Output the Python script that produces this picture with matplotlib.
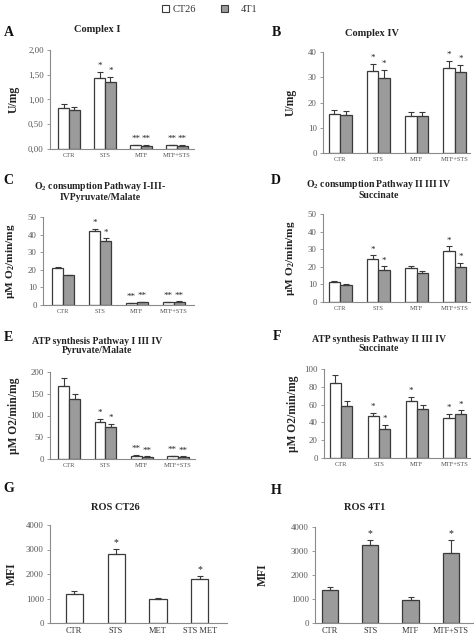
import matplotlib
matplotlib.use("Agg")
import matplotlib.pyplot as plt
import numpy as np
from matplotlib.patches import Rectangle
from matplotlib.ticker import FuncFormatter

plt.rcParams['font.family'] = ['Liberation Serif', 'DejaVu Serif']
plt.rcParams['mathtext.fontset'] = 'custom'
plt.rcParams['mathtext.rm'] = 'Liberation Serif'
plt.rcParams['mathtext.bf'] = 'Liberation Serif:bold'

# ---------------- data ----------------
cats_main = ["CTR", "STS", "MTF", "MTF+STS"]
cats_g = ["CTR", "STS", "MET", "STS MET"]
cats_h = ["CTR", "STS", "MTF", "MTF+STS"]

a_ct26 = [0.83, 1.43, 0.08, 0.08]
a_ct26_err = [0.08, 0.12, 0.01, 0.01]
a_4t1 = [0.78, 1.36, 0.07, 0.07]
a_4t1_err = [0.07, 0.10, 0.01, 0.01]
a_stars = ["", "*", "**", "**"]

b_ct26 = [15.6, 32.5, 14.8, 33.5]
b_ct26_err = [1.6, 2.8, 1.3, 2.8]
b_4t1 = [15.1, 29.7, 14.8, 32.0]
b_4t1_err = [1.6, 3.2, 1.3, 2.8]
b_stars = ["", "*", "", "*"]

c_ct26 = [20.8, 41.8, 1.2, 1.5]
c_ct26_err = [0.6, 1.6, 0.2, 0.2]
c_4t1 = [16.8, 36.3, 1.6, 1.8]
c_4t1_err = [0.5, 1.6, 0.3, 0.3]
c_stars = ["", "*", "**", "**"]

d_ct26 = [11.5, 24.3, 19.5, 28.9]
d_ct26_err = [0.6, 2.2, 0.9, 2.8]
d_4t1 = [9.6, 18.4, 16.3, 20.0]
d_4t1_err = [0.4, 1.9, 1.1, 2.3]
d_stars_ct26 = ["", "*", "", "*"]
d_stars_4t1 = ["", "*", "", "*"]

e_ct26 = [167, 86, 8, 7]
e_ct26_err = [20, 7, 1, 1]
e_4t1 = [138, 74.5, 5, 5]
e_4t1_err = [11, 6, 1, 1]
e_stars = ["", "*", "**", "**"]

f_ct26 = [84, 47, 64, 45.5]
f_ct26_err = [9, 4, 5, 4]
f_4t1 = [58.5, 33, 55, 49.5]
f_4t1_err = [6, 4, 5, 4]
f_stars_ct26 = ["", "*", "*", "*"]
f_stars_4t1 = ["", "*", "", "*"]

g_vals = [1190, 2810, 990, 1790]
g_err = [125, 220, 25, 135]
g_stars = ["", "*", "", "*"]

h_vals = [1380, 3240, 950, 2920]
h_err = [110, 235, 150, 530]
h_stars = ["", "*", "", "*"]

# ---------------- layout helpers ----------------
W, H = 474, 641
fig = plt.figure(figsize=(W / 100, H / 100), dpi=100)
fig.patch.set_facecolor("white")

EDGE = "#3a3a3a"
GRAY = "#9b9b9b"
SPINE = "#8a8a8a"
TICKC = "#555555"


def fx(x):
    return x / W


def fy(y):
    return 1 - y / H


def make_ax(l, t, r, b):
    ax = fig.add_axes([fx(l), fy(b), (r - l) / W, (b - t) / H])
    for s in ["top", "right"]:
        ax.spines[s].set_visible(False)
    for s in ["left", "bottom"]:
        ax.spines[s].set_color(SPINE)
        ax.spines[s].set_linewidth(0.8)
    ax.tick_params(axis="y", length=2.5, width=0.6, color=SPINE,
                   labelsize=6.3, labelcolor=TICKC, pad=2)
    ax.tick_params(axis="x", length=0, labelsize=4.7, labelcolor=TICKC, pad=3)
    return ax


def ylab(ax, text, px, l, r, size=8.5):
    ax.set_ylabel(text, fontsize=size, fontweight="bold", color="#222222")
    ax.yaxis.set_label_coords((px - l) / (r - l), 0.5)


def pair(ax, cats, v1, e1, v2, e2, s1, s2, ymax, xlim, w=0.3):
    x = np.arange(len(cats))
    ax.bar(x - w / 2, v1, w, color="white", edgecolor=EDGE, linewidth=0.9, zorder=2)
    ax.bar(x + w / 2, v2, w, color=GRAY, edgecolor=EDGE, linewidth=0.9, zorder=2)
    ax.errorbar(x - w / 2, v1, yerr=[np.zeros(len(v1)), e1], fmt="none",
                ecolor=EDGE, elinewidth=0.8, capsize=2, capthick=0.8, zorder=3)
    ax.errorbar(x + w / 2, v2, yerr=[np.zeros(len(v2)), e2], fmt="none",
                ecolor=EDGE, elinewidth=0.8, capsize=2, capthick=0.8, zorder=3)
    off = ymax * 0.02
    for i in range(len(cats)):
        if s1[i]:
            ax.text(x[i] - w / 2, v1[i] + e1[i] + off, s1[i], ha="center",
                    va="bottom", fontsize=6.5, color="#222222")
        if s2[i]:
            ax.text(x[i] + w / 2, v2[i] + e2[i] + off, s2[i], ha="center",
                    va="bottom", fontsize=6.5, color="#222222")
    ax.set_ylim(0, ymax)
    ax.set_xlim(*xlim)
    ax.set_xticks(x)
    ax.set_xticklabels(cats)


def single(ax, cats, v, e, s, color, ymax, xlim, w=0.41, lsize=6):
    x = np.arange(len(cats))
    ax.bar(x, v, w, color=color, edgecolor=EDGE, linewidth=0.9, zorder=2)
    ax.errorbar(x, v, yerr=[np.zeros(len(v)), e], fmt="none", ecolor=EDGE,
                elinewidth=0.8, capsize=2.5, capthick=0.8, zorder=3)
    for i in range(len(cats)):
        if s[i]:
            ax.text(x[i], v[i] + e[i] + ymax * 0.02, s[i], ha="center",
                    va="bottom", fontsize=7, color="#222222")
    ax.set_ylim(0, ymax)
    ax.set_xlim(*xlim)
    ax.set_xticks(x)
    ax.set_xticklabels(cats, fontsize=lsize, color="#333333")


def title(x, y, text, size=7.5):
    fig.text(fx(x), fy(y), text, ha="center", va="center", fontsize=size,
             fontweight="bold", color="#222222", linespacing=1.1)


def letter(x, y, text):
    fig.text(fx(x), fy(y), text, ha="center", va="center", fontsize=10,
             fontweight="bold", color="#111111")


# ---------------- legend ----------------
fig.patches.append(Rectangle((fx(162), fy(12)), 7 / W, 7 / H, transform=fig.transFigure,
                             facecolor="white", edgecolor=EDGE, linewidth=0.8))
fig.text(fx(173), fy(9), "CT26", ha="left", va="center", fontsize=7.5, color="#333333")
fig.patches.append(Rectangle((fx(221), fy(12)), 7 / W, 7 / H, transform=fig.transFigure,
                             facecolor=GRAY, edgecolor=EDGE, linewidth=0.8))
fig.text(fx(241), fy(9.5), "4T1", ha="left", va="center", fontsize=7.5, color="#333333")

# ---------------- A ----------------
L, T, R, B = 50, 50, 194, 149
ax = make_ax(L, T, R, B)
pair(ax, cats_main, a_ct26, a_ct26_err, a_4t1, a_4t1_err, a_stars, a_stars, 2.0, (-0.53, 3.47))
ax.set_yticks([0, 0.5, 1.0, 1.5, 2.0])
ax.yaxis.set_major_formatter(FuncFormatter(lambda v, p: f"{v:.2f}".replace(".", ",")))
ylab(ax, "U/mg", 20, L, R)
letter(9, 33, "A")
title(97, 29, "Complex I")

# ---------------- B ----------------
L, T, R, B = 323, 52, 470, 153
ax = make_ax(L, T, R, B)
pair(ax, cats_main, b_ct26, b_ct26_err, b_4t1, b_4t1_err, b_stars, b_stars, 40, (-0.45, 3.4))
ax.set_yticks([0, 10, 20, 30, 40])
ylab(ax, "U/mg", 297, L, R)
letter(276, 33, "B")
title(372, 33, "Complex IV")

# ---------------- C ----------------
L, T, R, B = 43, 217, 194, 305
ax = make_ax(L, T, R, B)
pair(ax, cats_main, c_ct26, c_ct26_err, c_4t1, c_4t1_err, c_stars, c_stars, 50, (-0.55, 3.55))
ax.set_yticks([0, 10, 20, 30, 40, 50])
ylab(ax, r"µM O$_\mathbf{2}$/min/mg", 17, L, R, size=8.2)
letter(8, 180, "C")
title(100, 191, "O$_\\mathbf{2}$ consumption Pathway I-III-\nIVPyruvate/Malate", size=7)

# ---------------- D ----------------
L, T, R, B = 323, 214, 470, 302
ax = make_ax(L, T, R, B)
pair(ax, cats_main, d_ct26, d_ct26_err, d_4t1, d_4t1_err, d_stars_ct26, d_stars_4t1, 50, (-0.45, 3.4))
ax.set_yticks([0, 10, 20, 30, 40, 50])
ylab(ax, r"µM O$_\mathbf{2}$/min/mg", 297, L, R, size=8.2)
letter(276, 181, "D")
title(379, 189, "O$_\\mathbf{2}$ consumption Pathway II III IV\nSuccinate", size=7)

# ---------------- E ----------------
L, T, R, B = 50, 372, 195, 459
ax = make_ax(L, T, R, B)
pair(ax, cats_main, e_ct26, e_ct26_err, e_4t1, e_4t1_err, e_stars, e_stars, 200, (-0.53, 3.47))
ax.set_yticks([0, 50, 100, 150, 200])
ylab(ax, "µM O2/min/mg", 20, L, R, size=8.3)
letter(8, 338, "E")
title(97, 346, "ATP synthesis Pathway I III IV\nPyruvate/Malate", size=7)

# ---------------- F ----------------
L, T, R, B = 324, 369, 470, 458
ax = make_ax(L, T, R, B)
pair(ax, cats_main, f_ct26, f_ct26_err, f_4t1, f_4t1_err, f_stars_ct26, f_stars_4t1, 100, (-0.45, 3.4))
ax.set_yticks([0, 20, 40, 60, 80, 100])
ylab(ax, "µM O2/min/mg", 299, L, R, size=8.3)
letter(277, 337, "F")
title(379, 344, "ATP synthesis Pathway II III IV\nSuccinate", size=7)

# ---------------- G ----------------
L, T, R, B = 50, 525, 227, 623
ax = make_ax(L, T, R, B)
single(ax, cats_g, g_vals, g_err, g_stars, "white", 4000, (-0.58, 3.65))
ax.set_yticks([0, 1000, 2000, 3000, 4000])
ylab(ax, "MFI", 18, L, R)
letter(9, 489, "G")
title(115, 508, "ROS CT26")

# ---------------- H ----------------
L, T, R, B = 315, 527, 473, 623
ax = make_ax(L, T, R, B)
single(ax, cats_h, h_vals, h_err, h_stars, GRAY, 4000, (-0.37, 3.55))
ax.set_yticks([0, 1000, 2000, 3000, 4000])
ylab(ax, "MFI", 269, L, R)
letter(276, 490, "H")
title(365, 508, "ROS 4T1")

fig.savefig("out.png", dpi=100, facecolor="white")
